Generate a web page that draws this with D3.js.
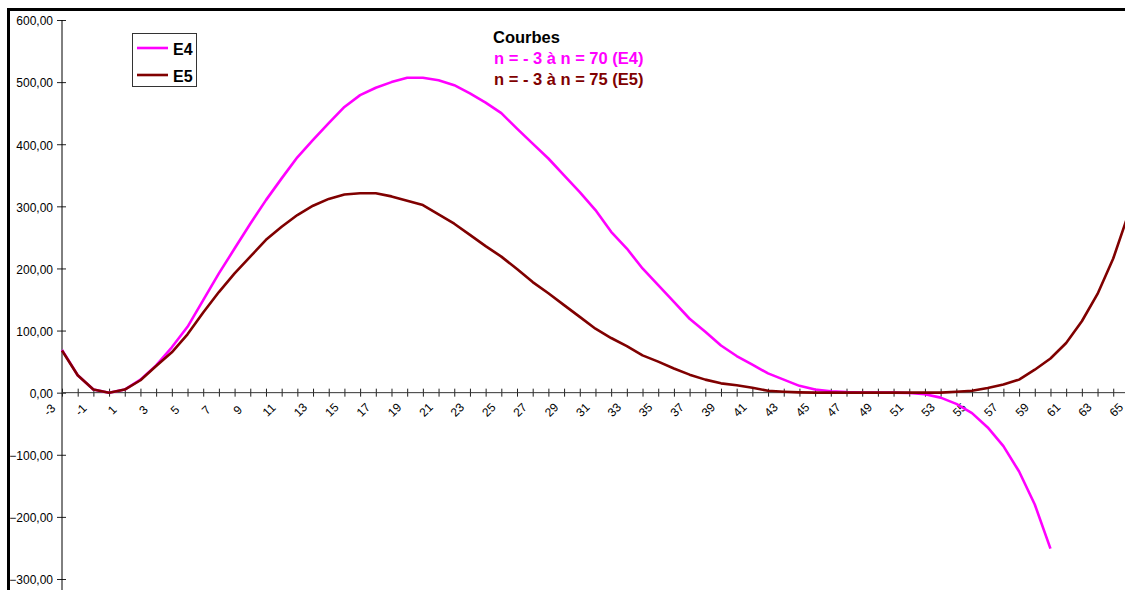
<!DOCTYPE html>
<html>
<head>
<meta charset="utf-8">
<script src="https://cdn.jsdelivr.net/npm/d3@7"></script>
<style>
  html, body { margin: 0; padding: 0; background: #fff; }
  svg { display: block; font-family: "Liberation Sans", Arial, sans-serif; }
</style>
</head>
<body>
<svg id="chart" width="1125" height="590"></svg>
<script>
// ---- data ----
const categories = [-3,-2,-1,0,1,2,3,4,5,6,7,8,9,10,11,12,13,14,15,16,17,18,19,20,21,22,23,24,25,26,27,28,29,30,31,32,33,34,35,36,37,38,39,40,41,42,43,44,45,46,47,48,49,50,51,52,53,54,55,56,57,58,59,60,61,62,63,64,65];
const xLabels = [-3,-1,1,3,5,7,9,11,13,15,17,19,21,23,25,27,29,31,33,35,37,39,41,43,45,47,49,51,53,55,57,59,61,63,65];
const yTicks = [600,500,400,300,200,100,0,-100,-200,-300];
const seriesNames = ["E4", "E5"];
// E4: n = -3 .. 60
const e4Values = [69,28,5,0,5,21,44,73,106,149,192,232,272,310,345,379,407,434,460,479,491,500,507,507,503,495,482,467,450,425,401,377,350,323,294,259,232,200,173,146,119,98,76,59,45,31,21,11,5,2.4,1,0.3,0,0,-0.5,-2.5,-8,-18,-33,-56,-86,-127,-180,-251];
// E5: n = -3 .. 65
const e5Values = [68,28,5,0,5,20,43,65,94,129,162,192,219,246,267,286,301,312,319,321,321,316,309,302,287,272,254,236,219,199,178,160,141,122,103,88,75,60,50,39,29,21,15,12,8,3,1.5,0.5,0,0,0,0,0,0,0,0,0,1.5,3,7.5,13,21,37,55,80,115,159,216,290];
const titleLines = ["Courbes", "n = - 3 à n = 70 (E4)", "n = - 3 à n = 75 (E5)"];
const colors = { E4: "#FF00FF", E5: "#800000" };

// ---- layout ----
const svg = d3.select("#chart");
const x0 = 62, step = 15.69;
const x = d3.scalePoint().domain(categories).range([x0, x0 + step * (categories.length - 1)]);
const y = d3.scaleLinear().domain([-300, 600]).range([579, 20]);
const fmt = v => d3.format(".2f")(v).replace(".", ",").replace("-", "-");

// chart area border (thick, extends beyond the view)
svg.append("rect").attr("x", 8.5).attr("y", 9.5).attr("width", 1300).attr("height", 800)
  .attr("fill", "none").attr("stroke", "#000").attr("stroke-width", 3);

// y axis
const yAxis = svg.append("g").attr("transform", `translate(${x0},0)`)
  .call(d3.axisLeft(y).tickValues(yTicks).tickFormat(fmt).tickSizeInner(5).tickSizeOuter(0));
yAxis.select(".domain").remove();
yAxis.selectAll(".tick line").attr("x1", -5).attr("x2", 4).attr("stroke", "#222");
yAxis.selectAll(".tick text").attr("x", -9).attr("dy", "0.4em")
  .attr("font-size", 12).attr("fill", "#000").attr("font-family", "Liberation Sans, Arial, sans-serif");
svg.append("line").attr("x1", x0).attr("x2", x0).attr("y1", y(600)).attr("y2", 590)
  .attr("stroke", "#000").attr("stroke-width", 1);

// x axis
const xAxis = svg.append("g").attr("transform", `translate(0,${y(0)})`)
  .call(d3.axisBottom(x).tickValues(categories).tickFormat("").tickSizeInner(4).tickSizeOuter(0));
xAxis.select(".domain").remove();
xAxis.selectAll(".tick line").attr("y1", -4).attr("y2", 4).attr("stroke", "#222");
svg.append("line").attr("x1", x0).attr("x2", 1125).attr("y1", y(0)).attr("y2", y(0))
  .attr("stroke", "#333").attr("stroke-width", 1);

svg.append("g").selectAll("text").data(xLabels).join("text")
  .attr("transform", d => `translate(${x(d) - 12.5},410) rotate(-45)`)
  .attr("text-anchor", "middle").attr("dominant-baseline", "central")
  .attr("font-size", 12).attr("fill", "#000")
  .text(d => d);

// lines
const line = d3.line().x(d => x(d.n)).y(d => y(d.v));
const e4Data = e4Values.map((v, i) => ({ n: categories[i], v }));
const e5Data = e5Values.map((v, i) => ({ n: categories[i], v }));
svg.append("path").datum(e4Data).attr("d", line).attr("fill", "none")
  .attr("stroke", colors.E4).attr("stroke-width", 2.6).attr("stroke-linejoin", "round");
svg.append("path").datum(e5Data).attr("d", line).attr("fill", "none")
  .attr("stroke", colors.E5).attr("stroke-width", 2.6).attr("stroke-linejoin", "round");

// legend
const lg = svg.append("g");
lg.append("rect").attr("x", 132.5).attr("y", 33.5).attr("width", 64).attr("height", 53)
  .attr("fill", "#fff").attr("stroke", "#333").attr("stroke-width", 1);
seriesNames.forEach((s, i) => {
  const yy = 48 + i * 27;
  lg.append("line").attr("x1", 137).attr("x2", 168).attr("y1", yy).attr("y2", yy)
    .attr("stroke", colors[s]).attr("stroke-width", 2.6);
  lg.append("text").attr("x", 173).attr("y", yy + 6.5).attr("font-size", 16)
    .attr("font-weight", "bold").attr("fill", "#000").text(s);
});

// title block
const tColors = ["#000", colors.E4, colors.E5];
const tX = [493, 494, 494];
const tY = [43, 64, 84.5];
titleLines.forEach((t, i) => {
  svg.append("text").attr("x", tX[i]).attr("y", tY[i]).attr("font-size", 16.5)
    .attr("font-weight", "bold").attr("fill", tColors[i]).text(t);
});
</script>
</body>
</html>
